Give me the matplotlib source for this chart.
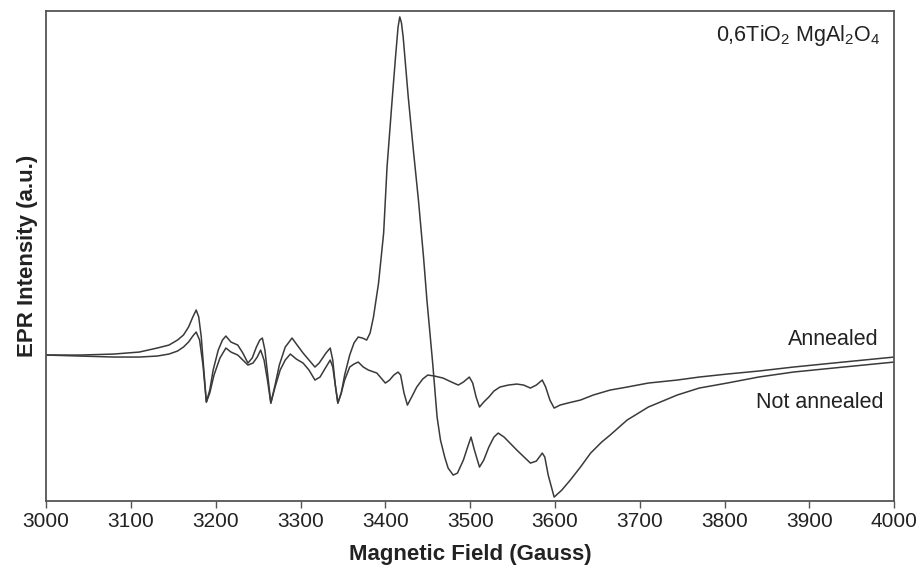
import matplotlib
matplotlib.use("Agg")
import matplotlib.pyplot as plt

plt.rcParams["font.family"] = ["Liberation Sans", "DejaVu Sans"]
plt.rcParams["mathtext.fontset"] = "custom"
plt.rcParams["mathtext.rm"] = "Liberation Sans"
plt.rcParams["mathtext.default"] = "regular"

# field (Gauss) and intensity (a.u., baseline = 0)
not_annealed_x = [3000, 3040, 3080, 3110, 3131, 3145, 3155, 3162, 3168, 3173, 3177, 3180, 3183,
                  3186, 3189, 3193, 3197, 3203, 3208, 3212, 3218, 3226, 3232, 3238, 3243, 3248,
                  3252, 3255, 3258, 3262, 3265, 3270, 3275, 3282, 3290, 3296, 3303, 3310, 3317,
                  3322, 3330, 3335, 3338, 3341, 3344, 3348, 3352, 3358, 3363, 3368, 3373, 3378,
                  3382, 3386, 3392, 3398, 3402, 3408, 3412, 3415, 3417, 3419, 3421, 3427, 3433,
                  3439, 3445, 3449, 3453, 3456, 3461, 3465, 3470, 3474, 3480, 3485, 3492, 3497,
                  3501, 3505, 3511, 3516, 3522, 3528, 3533, 3540, 3555, 3571, 3578, 3585, 3588,
                  3592, 3599, 3608, 3618, 3630, 3642, 3655, 3665, 3685, 3710, 3744, 3770, 3803,
                  3840, 3881, 3940, 4000]
not_annealed_y = [0, 0, 1, 3, 7, 10, 15, 20, 28, 38, 45, 38, 18,
                  -15, -47, -35, -15, 5, 15, 19, 13, 10, 2, -8, -3, 8,
                  15, 17, 5, -25, -48, -30, -10, 8, 17, 10, 2, -5, -12,
                  -8, 2, 7, -5, -30, -48, -38, -20, 0, 12, 18, 17, 15,
                  22, 38, 72, 122, 188, 255, 298, 328, 338, 332, 318, 258, 205,
                  155, 98, 55, 18, -10, -62, -85, -102, -113, -120, -118, -105, -92,
                  -82, -95, -112, -105, -92, -82, -78, -82, -95, -108, -106, -98, -102,
                  -120, -142, -135, -125, -112, -98, -87, -80, -65, -52, -40, -33, -28,
                  -22, -17, -12, -7]

annealed_x = [3000, 3040, 3080, 3110, 3131, 3145, 3155, 3162, 3168, 3173, 3177, 3181, 3185,
              3189, 3193, 3198, 3205, 3212, 3218, 3226, 3232, 3238, 3244, 3249, 3253, 3257,
              3261, 3265, 3270, 3276, 3282, 3288, 3295, 3303, 3310, 3317, 3323, 3330, 3335,
              3338, 3341, 3344, 3348, 3352, 3358, 3363, 3368, 3374, 3380, 3390, 3396, 3400,
              3405, 3410, 3415, 3418, 3422, 3426, 3431, 3437, 3444, 3450, 3458, 3468, 3478,
              3486, 3492, 3499, 3503, 3507, 3511, 3516, 3522, 3528, 3535, 3545, 3555, 3563,
              3571, 3578, 3585, 3589, 3594, 3599, 3606, 3615, 3630, 3645, 3665, 3685, 3710,
              3744, 3770, 3803, 3840, 3881, 3940, 4000]
annealed_y = [0, -1, -2, -2, -1, 1, 4, 8, 13, 19, 23, 15, -10,
              -47, -38, -20, -3, 7, 3, 0, -5, -10, -8, -2, 5, -5,
              -25, -48, -32, -15, -5, 1, -4, -8, -15, -25, -22, -12, -5,
              -12, -30, -48, -38, -25, -12, -9, -7, -12, -15, -18, -24, -28,
              -25, -20, -17, -20, -38, -50, -42, -32, -24, -20, -21, -23, -27,
              -30, -27, -22, -28, -42, -52, -47, -42, -36, -32, -30, -29, -30,
              -33, -30, -25, -32, -45, -53, -50, -48, -45, -40, -35, -32, -28,
              -25, -22, -19, -16, -12, -7, -2]

x_ticks = [3000, 3100, 3200, 3300, 3400, 3500, 3600, 3700, 3800, 3900, 4000]

fig = plt.figure(figsize=(9.21, 5.74), dpi=100)
ax = fig.add_axes([0.050, 0.127, 0.921, 0.854])

line_color = "#3a3a3a"
ax.plot(not_annealed_x, not_annealed_y, color=line_color, linewidth=1.1)
ax.plot(annealed_x, annealed_y, color=line_color, linewidth=1.1)

ax.set_xlim(3000, 4000)
ax.set_ylim(-146, 344)
ax.set_xticks(x_ticks)
ax.set_yticks([])
ax.tick_params(axis="x", direction="out", length=5, width=1, color="#555555", labelsize=15, pad=3, labelcolor="#222222")

for spine in ax.spines.values():
    spine.set_color("#555555")
    spine.set_linewidth(1.3)

ax.set_xlabel("Magnetic Field (Gauss)", fontsize=16, fontweight="bold", labelpad=9, color="#222222")
ax.set_ylabel("EPR Intensity (a.u.)", fontsize=16, fontweight="bold", labelpad=6, color="#222222")

ax.text(0.9835, 0.95, "0,6TiO$_2$ MgAl$_2$O$_4$", transform=ax.transAxes, ha="right", va="center", fontsize=15.5, color="#222222")
ax.text(3982, 16, "Annealed", ha="right", va="center", fontsize=15.5, color="#222222")
ax.text(3987, -47, "Not annealed", ha="right", va="center", fontsize=15.5, color="#222222")

fig.savefig("out.png", dpi=100)
plt.close(fig)
